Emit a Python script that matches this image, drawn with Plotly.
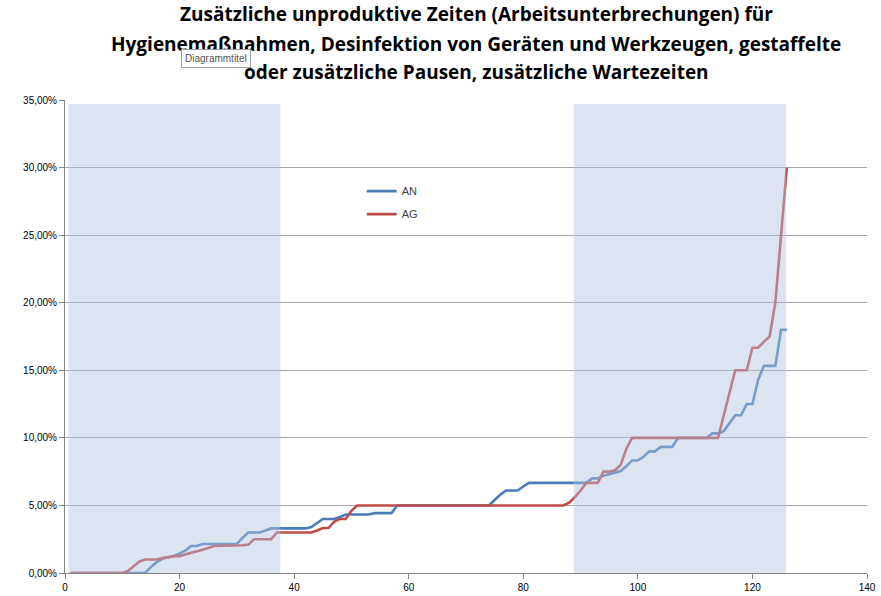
import plotly.graph_objects as go

# ---------------- data ----------------
x_index = list(range(1, 127))

an_values = (
    [0.0] * 14
    + [0.45, 0.8, 1.05, 1.15, 1.25, 1.45, 1.65, 2.0, 2.0, 2.15]          # 15-24
    + [2.15] * 6                                                          # 25-30
    + [2.6, 3.0, 3.0, 3.0, 3.15, 3.3]                                     # 31-36
    + [3.3] * 6                                                           # 37-42
    + [3.4, 3.7, 4.0, 4.0, 4.0, 4.15, 4.33]                               # 43-49
    + [4.33] * 4                                                          # 50-53
    + [4.43] * 4                                                          # 54-57
    + [5.0] * 17                                                          # 58-74
    + [5.4, 5.8, 6.1, 6.1, 6.1, 6.4]                                      # 75-80
    + [6.67] * 11                                                         # 81-91
    + [7.0, 7.0, 7.2, 7.3, 7.4, 7.55, 7.9, 8.33, 8.33, 8.6, 9.0, 9.0]     # 92-103
    + [9.33, 9.33, 9.33]                                                  # 104-106
    + [10.0] * 6                                                          # 107-112
    + [10.33, 10.33, 10.5, 11.1, 11.67, 11.67, 12.5, 12.5, 14.3]          # 113-121
    + [15.33, 15.33, 15.33, 18.0, 18.0]                                   # 122-126
)

ag_values = (
    [0.0] * 10
    + [0.15, 0.5, 0.85, 1.0, 1.0, 1.0, 1.1, 1.17, 1.25, 1.25]            # 11-20
    + [1.4, 1.5, 1.6, 1.7, 1.85, 2.0]                                     # 21-26
    + [2.0] * 4                                                           # 27-30
    + [2.05, 2.1, 2.5, 2.5, 2.5, 2.5]                                     # 31-36
    + [3.0] * 7                                                           # 37-43
    + [3.15, 3.33, 3.33, 3.8, 4.0, 4.0, 4.6]                              # 44-50
    + [5.0] * 37                                                          # 51-87
    + [5.2, 5.6, 6.1, 6.67, 6.67, 6.67, 7.5, 7.5, 7.6, 8.0, 9.2]          # 88-98
    + [10.0] * 16                                                         # 99-114
    + [11.67, 13.33, 15.0, 15.0, 15.0, 16.67, 16.67, 17.1, 17.5]          # 115-123
    + [20.0, 25.0, 30.0]                                                  # 124-126
)

series_names = ["AN", "AG"]
band_ranges = [(0.6, 37.6), (88.8, 125.9)]
band_top = 0.347

title_lines = [
    "Zusätzliche unproduktive Zeiten (Arbeitsunterbrechungen) für",
    "Hygienemaßnahmen, Desinfektion von Geräten und Werkzeugen, gestaffelte",
    "oder zusätzliche Pausen, zusätzliche Wartezeiten",
]
x_ticks = [0, 20, 40, 60, 80, 100, 120, 140]
y_ticks = [0, 0.05, 0.10, 0.15, 0.20, 0.25, 0.30, 0.35]

# ---------------- figure ----------------
fig = go.Figure()
colors = ["#4A7EBB", "#BE4B48"]
for name, vals, col in zip(series_names, [an_values, ag_values], colors):
    fig.add_trace(go.Scatter(
        x=x_index, y=[v / 100 for v in vals], mode="lines", name=name,
        legendgroup=name,
        line=dict(color=col, width=2.6),
    ))

for x0, x1 in band_ranges:
    fig.add_shape(type="rect", xref="x", yref="y", x0=x0, x1=x1, y0=0, y1=band_top,
                  fillcolor="rgba(177,195,224,0.45)", line=dict(width=0), layer="above")

# title lines
title_y = [1.181, 1.118, 1.059]
for txt, yy in zip(title_lines, title_y):
    fig.add_annotation(text="<b>" + txt + "</b>", xref="paper", yref="paper",
                       x=0.513, y=yy, xanchor="center", yanchor="middle",
                       showarrow=False, font=dict(family="Open Sans", size=19, color="#000000"))

# tooltip artifact
fig.add_annotation(text="Diagrammtitel", xref="paper", yref="paper",
                   x=(216 - 65) / 802, y=(573 - 58) / 473, xanchor="center", yanchor="middle",
                   showarrow=False, font=dict(family="Liberation Sans Narrow, Liberation Sans", size=10, color="#555555"),
                   bgcolor="#FFFFFF", bordercolor="#A0A0A0", borderwidth=1, borderpad=3)

fig.update_layout(
    width=881, height=596,
    margin=dict(l=65, r=14, t=100, b=23),
    paper_bgcolor="white", plot_bgcolor="white",
    separators=",.",
    font=dict(family="Liberation Sans", size=10, color="#000000"),
    showlegend=True,
    legend=dict(x=0.37, y=0.838, xanchor="left", yanchor="top",
                bgcolor="rgba(0,0,0,0)", font=dict(size=11, color="#404040"),
                tracegroupgap=4, itemwidth=30),
)
fig.update_xaxes(range=[0, 140], tickvals=x_ticks, showgrid=False, zeroline=False,
                 automargin=False,
                 showline=True, linecolor="#868686", linewidth=1,
                 ticks="outside", ticklen=5, tickcolor="#868686",
                 tickfont=dict(size=10, color="#000000"))
fig.update_yaxes(range=[0, 0.35], tickvals=y_ticks, tickformat=".2%",
                 automargin=False,
                 showgrid=True, gridcolor="#A6A6A6", gridwidth=1, zeroline=False,
                 showline=True, linecolor="#868686", linewidth=1,
                 ticks="outside", ticklen=5, tickcolor="#868686",
                 tickfont=dict(size=10, color="#000000"))

# remove the page's default body margin so the figure fills the window exactly
fig.write_html("out.html",
               config={"displayModeBar": False},
               post_script="document.body.style.margin='0';document.body.style.overflow='hidden';")
